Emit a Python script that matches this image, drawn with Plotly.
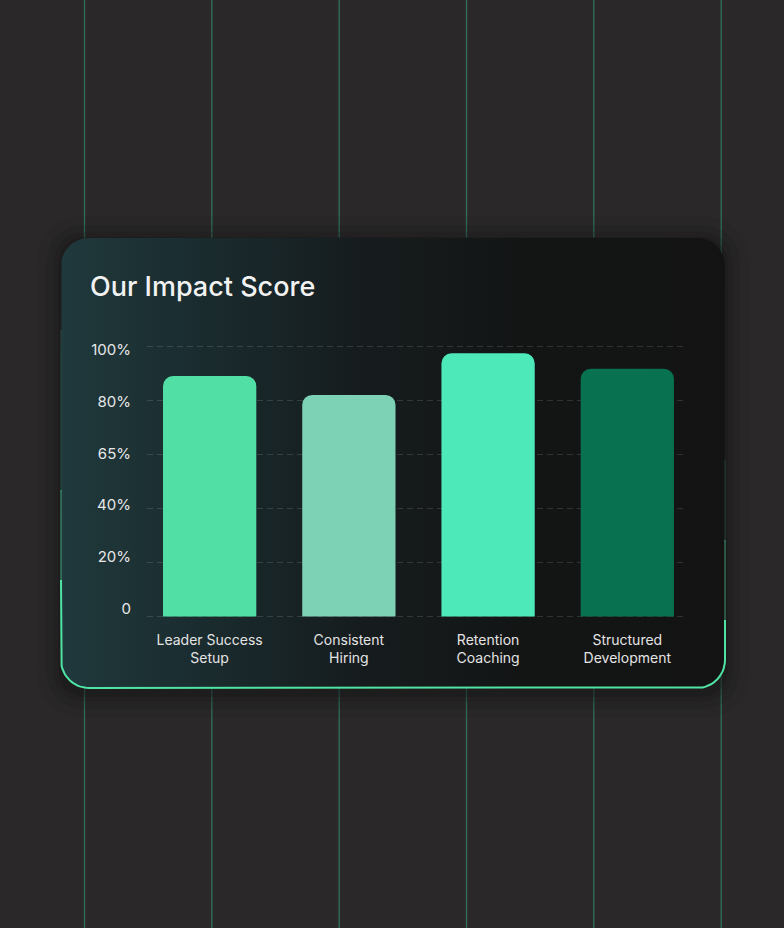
import numpy as np
import plotly.graph_objects as go

# ---------------- data ----------------
categories = ["Leader Success<br>Setup", "Consistent<br>Hiring", "Retention<br>Coaching", "Structured<br>Development"]
scores = [89.0, 82.0, 97.4, 91.7]
bar_colors = ["#51dfa6", "#7dd1b5", "#4de9b9", "#08714f"]
tick_values = [0, 20, 40, 60, 80, 100]
tick_labels = ["0", "20%", "40%", "65%", "80%", "100%"]
title_text = "Our Impact Score"

W, H = 784, 928
PAGE_BG = "#2a2829"
FONT = "Inter"

# card geometry (pixels)
CX0, CX1, CY0, CY1, CR = 61, 725, 238, 688, 28


def rounded_rect(x0, x1, y0, y1, r, n=16):
    xs, ys = [], []
    corners = [
        (x1 - r, y0 + r, -np.pi / 2, 0),
        (x1 - r, y1 - r, 0, np.pi / 2),
        (x0 + r, y1 - r, np.pi / 2, np.pi),
        (x0 + r, y0 + r, np.pi, 1.5 * np.pi),
    ]
    for cx, cy, a0, a1 in corners:
        t = np.linspace(a0, a1, n)
        xs.extend(cx + r * np.cos(t))
        ys.extend(cy + r * np.sin(t))
    xs.append(xs[0])
    ys.append(ys[0])
    return xs, ys


def rr_path(x0, x1, y0, y1, r):
    def px(x):
        return x / W

    def py(y):
        return 1 - y / H

    return (f"M {px(x0 + r)},{py(y0)} L {px(x1 - r)},{py(y0)} "
            f"Q {px(x1)},{py(y0)} {px(x1)},{py(y0 + r)} L {px(x1)},{py(y1 - r)} "
            f"Q {px(x1)},{py(y1)} {px(x1 - r)},{py(y1)} L {px(x0 + r)},{py(y1)} "
            f"Q {px(x0)},{py(y1)} {px(x0)},{py(y1 - r)} L {px(x0)},{py(y0 + r)} "
            f"Q {px(x0)},{py(y0)} {px(x0 + r)},{py(y0)} Z")


fig = go.Figure()

# card body with gradient (pixel axes x/y)
cx, cy = rounded_rect(CX0, CX1, CY0, CY1, CR)
fig.add_trace(go.Scatter(
    x=cx, y=cy, mode="lines", fill="toself", line=dict(width=0),
    fillgradient=dict(type="horizontal",
                      colorscale=[[0, "#20393c"], [0.22, "#1a2b2e"], [0.45, "#161c1e"], [0.7, "#131515"], [1, "#131313"]]),
    hoverinfo="skip", showlegend=False, xaxis="x", yaxis="y"))


def border_segment(pts_x, pts_y, color, width):
    fig.add_trace(go.Scatter(x=pts_x, y=pts_y, mode="lines",
                             line=dict(color=color, width=width),
                             hoverinfo="skip", showlegend=False, xaxis="x", yaxis="y"))


t = np.linspace(np.pi / 2, np.pi, 16)
bl_x = list(CX0 + CR + CR * np.cos(t))[::-1]
bl_y = list(CY1 - CR + CR * np.sin(t))[::-1]
t2 = np.linspace(0, np.pi / 2, 16)
br_x = list(CX1 - CR + CR * np.cos(t2))[::-1]
br_y = list(CY1 - CR + CR * np.sin(t2))[::-1]
border_segment([CX0] + bl_x + br_x + [CX1], [580] + bl_y + br_y + [620], "#4fe3a4", 2)
border_segment([CX0, CX0], [490, 582], "rgba(79,227,164,0.45)", 1.5)
border_segment([CX0, CX0], [330, 492], "rgba(79,227,164,0.18)", 1.2)
border_segment([CX1, CX1], [540, 622], "rgba(79,227,164,0.4)", 1.5)
border_segment([CX1, CX1], [460, 542], "rgba(79,227,164,0.15)", 1.2)

# bars (axes x2/y2)
fig.add_trace(go.Bar(
    x=categories, y=scores, marker=dict(color=bar_colors, cornerradius=10, line=dict(width=0)),
    width=0.67, hoverinfo="skip", showlegend=False, xaxis="x2", yaxis="y2"))
# label axis for the value ticks (slightly tighter spacing than the grid)
fig.add_trace(go.Scatter(x=[], y=[], mode="markers", hoverinfo="skip", showlegend=False,
                         xaxis="x2", yaxis="y3"))

shapes = []
for lx in [84.5, 211.8, 339.2, 466.5, 593.8, 721.2]:
    shapes.append(dict(type="line", xref="paper", yref="paper", x0=lx / W, x1=lx / W, y0=0, y1=1,
                       line=dict(color="#2e715f", width=1.3), layer="below"))
for grow, alpha in [(24, 0.08), (15, 0.13), (8, 0.2), (3, 0.3)]:
    shapes.append(dict(type="path", xref="paper", yref="paper",
                       path=rr_path(CX0 - grow, CX1 + grow, CY0 - grow + 2, CY1 + grow + 6, CR + grow),
                       fillcolor=f"rgba(24,22,23,{alpha})", line=dict(width=0), layer="below"))

axis_common = dict(zeroline=False, showline=False, ticks="", fixedrange=True, automargin=False)

# grid axis: 0 -> 616.5px, 100 -> 346.3px; range padded so end gridlines are drawn
PX_PER_UNIT = (616.5 - 346.3) / 100
g_lo, g_hi = -1.5, 101.5
g_bottom = 616.5 - g_lo * PX_PER_UNIT
g_top = 616.5 - g_hi * PX_PER_UNIT

fig.update_layout(
    width=W, height=H,
    margin=dict(l=0, r=0, t=0, b=0, pad=0, autoexpand=False),
    paper_bgcolor=PAGE_BG, plot_bgcolor="rgba(0,0,0,0)",
    shapes=shapes,
    showlegend=False,
    xaxis=dict(domain=[0, 1], range=[0, W], visible=False, fixedrange=True, automargin=False),
    yaxis=dict(domain=[0, 1], range=[H, 0], visible=False, fixedrange=True, automargin=False),
    xaxis2=dict(domain=[147 / W, 683 / W], range=[-0.45, 3.4], anchor="y2", showgrid=False,
                tickfont=dict(family=FONT, size=14, color="#e4e4e4"), ticklabelstandoff=9, **axis_common),
    yaxis2=dict(domain=[1 - g_bottom / H, 1 - g_top / H], range=[g_lo, g_hi], anchor="x2",
                tickvals=tick_values, showticklabels=False,
                showgrid=True, gridcolor="rgba(255,255,255,0.13)", griddash="6px,4px", gridwidth=1,
                **axis_common),
    yaxis3=dict(domain=[1 - 608.5 / H, 1 - 350 / H], range=[0, 100], anchor="x2",
                tickvals=tick_values, ticktext=tick_labels, showgrid=False,
                tickfont=dict(family=FONT, size=15, color="#e8e8e8"), ticklabelstandoff=15,
                **axis_common),
    annotations=[dict(text=title_text, xref="paper", yref="paper", x=88 / W, y=1 - 287 / H,
                      xanchor="left", yanchor="middle", showarrow=False,
                      font=dict(family=FONT, size=27, color="#f2f2f2", weight=500))],
    font=dict(family=FONT),
)

fig.write_html(
    "out.html",
    config={"displayModeBar": False, "staticPlot": True},
    post_script="document.body.style.margin='0';document.body.style.padding='0';"
                "document.body.style.background='#2a2829';document.body.style.overflow='hidden';",
)
